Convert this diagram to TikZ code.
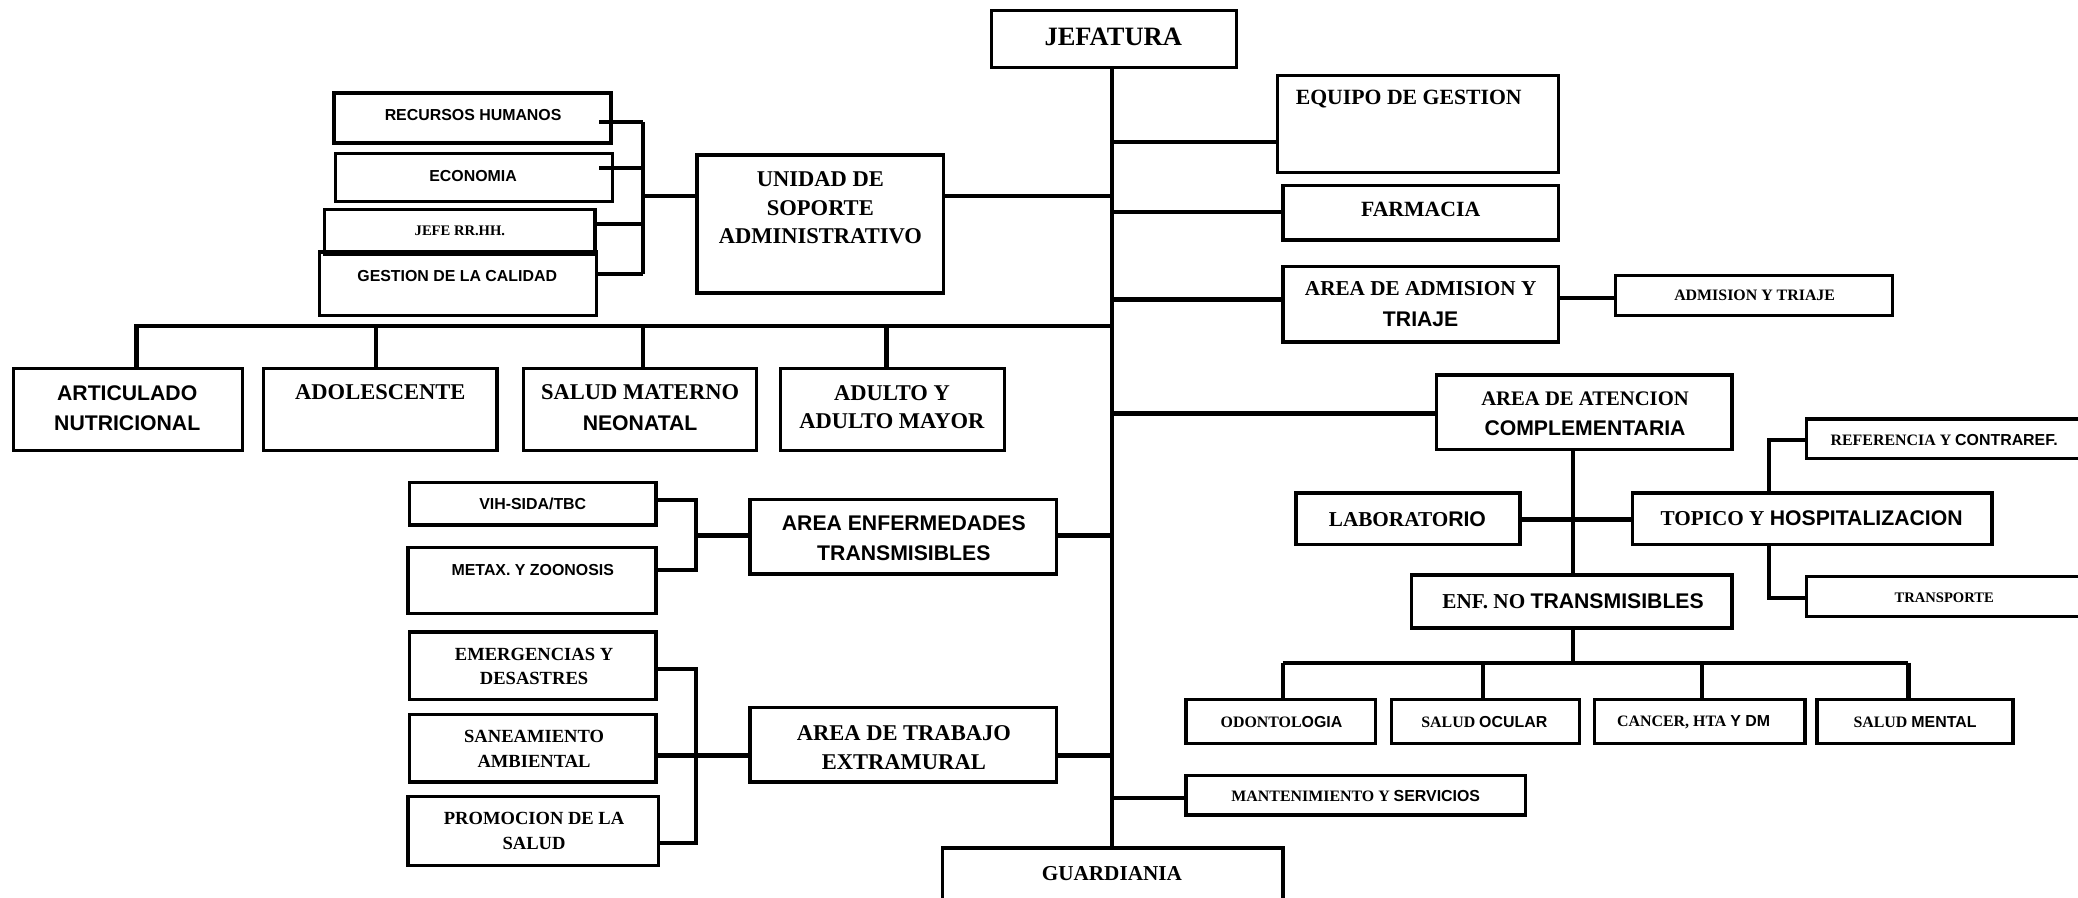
\documentclass[tikz,border=0pt]{standalone}
\usepackage{fontspec}
\setmainfont{Liberation Serif}
\setsansfont{Liberation Sans}
\newcommand\fs[2]{\fontsize{#1}{#2}\selectfont}
\newcommand\sbf{\sffamily\bfseries}
\newcommand\bx[5]{\node[box,minimum width={(#4-#2)*0.5pt},minimum height={(#5-#3)*0.5pt}] (#1) at ({(#2+#4)/2},{(#3+#5)/2}) {};}
\tikzset{
  box/.style={draw, line width=1.3pt, rectangle, inner sep=0pt},
  conn/.style={line width=1.6pt},
  txt/.style={font=\bfseries, align=center, inner sep=0pt},
}
\begin{document}
\begin{tikzpicture}[x=0.5pt,y=-0.5pt]
\useasboundingbox (0,0) rectangle (1568,677);
% boxes
\bx{jef}{748}{8}{933}{51}
\bx{equipo}{964}{57}{1176}{130}
\bx{farm}{968}{140}{1176}{181}
\bx{adma}{968}{201}{1176}{258}
\bx{admb}{1219}{208}{1428}{238}
\bx{unidad}{526}{117}{712}{221}
\bx{rrhh}{252}{70}{461}{108}
\bx{econ}{253}{116}{462}{152}
\bx{jefe}{245}{158}{449}{192}
\bx{gest}{241}{190}{450}{238}
\bx{art}{10}{278}{183}{340}
\bx{adol}{199}{278}{375}{340}
\bx{matern}{395}{278}{571}{340}
\bx{adulto}{589}{278}{758}{340}
\bx{vih}{309}{364}{495}{396}
\bx{metax}{308}{413}{495}{463}
\bx{areaenf}{566}{377}{797}{433}
\bx{emerg}{309}{477}{495}{528}
\bx{sanea}{309}{539}{495}{590}
\bx{promo}{308}{601}{497}{653}
\bx{trabajo}{566}{534}{797}{590}
\bx{atenc}{1084}{283}{1307}{339}
\bx{lab}{978}{372}{1147}{411}
\bx{topico}{1232}{372}{1503}{411}
\bx{refer}{1363}{316}{1570}{346}
\bx{transp}{1363}{435}{1570}{465}
\bx{enf}{1065}{434}{1307}{474}
\bx{odon}{895}{528}{1038}{561}
\bx{ocular}{1050}{528}{1192}{561}
\bx{cancer}{1203}{528}{1362}{561}
\bx{mental}{1371}{528}{1519}{561}
\bx{mant}{895}{585}{1151}{615}
\bx{guard}{711}{640}{968}{681}
% texts
\node[txt,font=\fs{10}{12}\bfseries] (t-jef) at (840,28) {JEFATURA};
\node[txt,font=\fs{8.2}{10}\bfseries] (t-equipo) at (1063,75) {EQUIPO DE GESTION};
\node[txt,font=\fs{8.2}{10}\bfseries] (t-farm) at (1072,158) {FARMACIA};
\node[txt,font=\fs{8}{10}\bfseries] (t-adma1) at (1072,218) {AREA DE ADMISION Y};
\node[txt,font=\fs{8}{10}\sbf] (t-adma2) at (1072,241) {TRIAJE};
\node[txt,font=\fs{6}{7}\bfseries] (t-admb) at (1324,223) {ADMISION Y TRIAJE};
\node[txt,font=\fs{8.5}{10.75}\bfseries] (t-unidad) at (619,157) {UNIDAD DE\\SOPORTE\\ADMINISTRATIVO};
\node[txt,font=\fs{6}{7}\sbf] (t-rrhh) at (357,87) {RECURSOS HUMANOS};
\node[txt,font=\fs{6}{7}\sbf] (t-econ) at (357,133) {ECONOMIA};
\node[txt,font=\fs{5.5}{7}\bfseries] (t-jefe) at (347,174) {JEFE RR.HH.};
\node[txt,font=\fs{6}{7}\sbf] (t-gest) at (345,208) {GESTION DE LA CALIDAD};
\node[txt,font=\fs{8}{11.5}\sbf] (t-art) at (96,308) {ARTICULADO\\NUTRICIONAL};
\node[txt,font=\fs{8.5}{10}\bfseries] (t-adol) at (287,296) {ADOLESCENTE};
\node[txt,font=\fs{8.5}{10}\bfseries] (t-mat1) at (483,296) {SALUD MATERNO};
\node[txt,font=\fs{8}{10}\sbf] (t-mat2) at (483,319) {NEONATAL};
\node[txt,font=\fs{8.5}{10.5}\bfseries] (t-adulto) at (673,307) {ADULTO Y\\ADULTO MAYOR};
\node[txt,font=\fs{6}{7}\sbf] (t-vih) at (402,380) {VIH-SIDA/TBC};
\node[txt,font=\fs{6}{7}\sbf] (t-metax) at (402,430) {METAX. Y ZOONOSIS};
\node[txt,font=\fs{8}{11.5}\sbf] (t-areaenf) at (682,406) {AREA ENFERMEDADES\\TRANSMISIBLES};
\node[txt,font=\fs{7}{9.2}\bfseries] (t-emerg) at (403,503) {EMERGENCIAS Y\\DESASTRES};
\node[txt,font=\fs{7}{9.5}\bfseries] (t-sanea) at (403,565) {SANEAMIENTO\\AMBIENTAL};
\node[txt,font=\fs{7}{9.5}\bfseries] (t-promo) at (403,627) {PROMOCION DE LA\\SALUD};
\node[txt,font=\fs{8.5}{11}\bfseries] (t-trabajo) at (682,564) {AREA DE TRABAJO\\EXTRAMURAL};
\node[txt,font=\fs{7.8}{10}\bfseries] (t-atenc1) at (1196,301) {AREA DE ATENCION};
\node[txt,font=\fs{8}{10}\sbf] (t-atenc2) at (1196,323) {COMPLEMENTARIA};
\node[txt,font=\fs{8}{10}\bfseries] (t-lab) at (1062,392) {LABORATO{\sffamily RIO}};
\node[txt,font=\fs{8}{10}\bfseries] (t-topico) at (1367,391) {TOPICO Y {\sffamily HOSPITALIZACION}};
\node[txt,font=\fs{6}{7}\bfseries] (t-refer) at (1467,332) {REFERENCIA Y {\sffamily CONTRAREF.}};
\node[txt,font=\fs{5.5}{7}\bfseries] (t-transp) at (1467,451) {TRANSPORTE};
\node[txt,font=\fs{8}{10}\bfseries] (t-enf) at (1187,454) {ENF. NO {\sffamily TRANSMISIBLES}};
\node[txt,font=\fs{6}{7}\bfseries] (t-odon) at (967,545) {ODONTOL{\sffamily OGIA}};
\node[txt,font=\fs{6}{7}\bfseries] (t-ocular) at (1120,545) {SALUD {\sffamily OCULAR}};
\node[txt,font=\fs{6}{7}\bfseries] (t-cancer) at (1278,545) {CANCER, HTA {\sffamily Y DM}};
\node[txt,font=\fs{6}{7}\bfseries] (t-mental) at (1445,545) {SALUD {\sffamily MENTAL}};
\node[txt,font=\fs{6}{7}\bfseries] (t-mant) at (1023,601) {MANTENIMIENTO Y {\sffamily SERVICIOS}};
\node[txt,font=\fs{8}{10}\bfseries] (t-guard) at (839,659) {GUARDIANIA};
% trunk
\coordinate (tr) at (839,51);
\draw[conn] (tr) -- (tr |- guard.north);
\draw[conn] (tr |- 0,107) -- (equipo.west |- 0,107);
\draw[conn] (tr |- 0,160) -- (farm.west |- 0,160);
\draw[conn] (tr |- 0,226) -- (adma.west |- 0,226);
\draw[conn] (adma.east |- 0,225) -- (admb.west |- 0,225);
\draw[conn] (tr |- 0,148) -- (unidad.east |- 0,148);
\draw[conn] (tr |- 0,312) -- (atenc.west |- 0,312);
\draw[conn] (tr |- 0,404) -- (areaenf.east |- 0,404);
\draw[conn] (tr |- 0,570) -- (trabajo.east |- 0,570);
\draw[conn] (tr |- 0,602) -- (mant.west |- 0,602);
% left bar with programs
\draw[conn] (tr |- 0,246) -- (103,246) -- (art.north -| 103,0);
\draw[conn] (284,246) -- (adol.north -| 284,0);
\draw[conn] (485,246) -- (matern.north -| 485,0);
\draw[conn] (669,246) -- (adulto.north -| 669,0);
% administrative bracket
\coordinate (ba) at (485,92);
\draw[conn] (ba) -- (485,207);
\draw[conn] (452,92) -- (ba);
\draw[conn] (452,127) -- (485,127);
\draw[conn] (jefe.east |- 0,169) -- (485,169);
\draw[conn] (gest.east |- 0,207) -- (485,207);
\draw[conn] (485,148) -- (unidad.west |- 0,148);
% transmissible bracket
\draw[conn] (vih.east |- 0,377) -- (525,377) -- (525,430) -- (metax.east |- 0,430);
\draw[conn] (525,404) -- (areaenf.west |- 0,404);
% extramural bracket
\draw[conn] (emerg.east |- 0,505) -- (525,505) -- (525,636) -- (promo.east |- 0,636);
\draw[conn] (sanea.east |- 0,570) -- (trabajo.west |- 0,570);
% complementaria
\draw[conn] (atenc.south -| 1187,0) -- (enf.north -| 1187,0);
\draw[conn] (lab.east |- 0,392) -- (topico.west |- 0,392);
\draw[conn] (refer.west |- 0,332) -- (1335,332) -- (topico.north -| 1335,0);
\draw[conn] (topico.south -| 1335,0) -- (1335,451) -- (transp.west |- 0,451);
\draw[conn] (enf.south -| 1187,0) -- (1187,500);
\draw[conn] (968,500) -- (1440,500);
\draw[conn] (968,500) -- (odon.north -| 968,0);
\draw[conn] (1119,500) -- (ocular.north -| 1119,0);
\draw[conn] (1284,500) -- (cancer.north -| 1284,0);
\draw[conn] (1440,500) -- (mental.north -| 1440,0);
\end{tikzpicture}
\end{document}
